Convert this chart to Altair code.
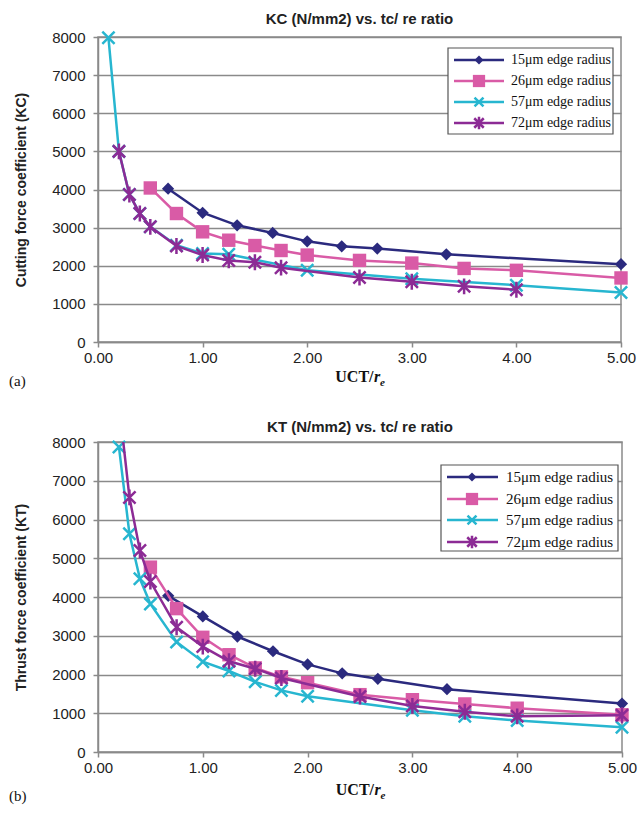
import altair as alt
import pandas as pd

# ---------------- data ----------------
series = ["15μm edge radius", "26μm edge radius", "57μm edge radius", "72μm edge radius"]

# (a) Cutting force coefficient KC
kc15_x = [0.67, 1.0, 1.33, 1.67, 2.0, 2.33, 2.67, 3.33, 5.0]
kc15_y = [4020, 3390, 3060, 2860, 2640, 2510, 2450, 2300, 2040]
kc26_x = [0.5, 0.75, 1.0, 1.25, 1.5, 1.75, 2.0, 2.5, 3.0, 3.5, 4.0, 5.0]
kc26_y = [4040, 3370, 2890, 2670, 2530, 2400, 2280, 2140, 2070, 1930, 1880, 1680]
kc57_x = [0.1, 0.2, 0.3, 0.4, 0.5, 0.75, 1.0, 1.25, 2.0, 3.0, 4.0, 5.0]
kc57_y = [7980, 5000, 3870, 3370, 3020, 2540, 2320, 2300, 1880, 1660, 1490, 1300]
kc72_x = [0.2, 0.3, 0.4, 0.5, 0.75, 1.0, 1.25, 1.5, 1.75, 2.5, 3.0, 3.5, 4.0]
kc72_y = [5000, 3870, 3370, 3020, 2520, 2280, 2140, 2090, 1950, 1690, 1580, 1460, 1370]

# (b) Thrust force coefficient KT
kt15_x = [0.67, 1.0, 1.33, 1.67, 2.0, 2.33, 2.67, 3.33, 5.0]
kt15_y = [4030, 3500, 2980, 2600, 2260, 2030, 1890, 1620, 1250]
kt26_x = [0.5, 0.75, 1.0, 1.25, 1.5, 1.75, 2.0, 2.5, 3.0, 3.5, 4.0, 5.0]
kt26_y = [4770, 3700, 2960, 2510, 2170, 1940, 1790, 1480, 1350, 1240, 1130, 960]
kt57_x = [0.2, 0.3, 0.4, 0.5, 0.75, 1.0, 1.25, 1.5, 1.75, 2.0, 3.0, 3.5, 4.0, 5.0]
kt57_y = [7870, 5630, 4470, 3820, 2840, 2330, 2090, 1810, 1590, 1440, 1080, 920, 810, 640]
kt72_x = [0.2, 0.3, 0.4, 0.5, 0.75, 1.0, 1.25, 1.5, 1.75, 2.5, 3.0, 3.5, 4.0, 5.0]
kt72_y = [9000, 6570, 5200, 4400, 3220, 2720, 2340, 2150, 1910, 1430, 1190, 1040, 920, 950]

y_ticks = [0, 1000, 2000, 3000, 4000, 5000, 6000, 7000, 8000]
x_ticks = [0, 1, 2, 3, 4, 5]

# ---------------- styles ----------------
colors = ["#2b2a7e", "#d95ba6", "#27b6d0", "#8c2b95"]
X_PATH = "M-1,-1L1,1M-1,1L1,-1"
STAR_PATH = "M-1,-1L1,1M-1,1L1,-1M0,-1.3L0,1.3"
shapes = ["diamond", "square", X_PATH, STAR_PATH]
filled = [True, True, False, False]
sizes = [150, 180, 150, 150]
leg_sizes = [80, 150, 80, 90]
GRID = "#8a8a8a"
SANS = "Liberation Sans"
SERIF = "Liberation Serif"


def panel(title, ytitle, xs_list, ys_list, w, h, leg, tag, xlab_base, tag_base):
    xsc = alt.Scale(domain=[0, 5], nice=False, zero=False)
    ysc = alt.Scale(domain=[0, 8000], nice=False)
    xenc = alt.X("x:Q", scale=xsc,
                 axis=alt.Axis(values=x_ticks, format=".2f", grid=False, tickSize=5,
                               labelPadding=3, labelFlush=False, title=None,
                               domainColor=GRID, tickColor=GRID, domainWidth=1.5,
                               tickWidth=1.5))
    yenc = alt.Y("y:Q", scale=ysc,
                 axis=alt.Axis(values=y_ticks, format="d", grid=True, tickSize=5,
                               labelPadding=8, title=ytitle, titlePadding=23,
                               gridColor=GRID, gridWidth=1.5, domainColor=GRID,
                               tickColor=GRID, domainWidth=1.5, tickWidth=1.5))
    layers = []
    for i in range(4):
        df = pd.DataFrame({"x": xs_list[i], "y": ys_list[i]})
        layers.append(alt.Chart(df).mark_line(color=colors[i], strokeWidth=2.5, clip=True)
                      .encode(x=xenc, y=yenc))
        layers.append(alt.Chart(df).transform_filter("datum.y <= 8000")
                      .mark_point(shape=shapes[i], filled=filled[i], color=colors[i],
                                  size=sizes[i], strokeWidth=2.5, opacity=1)
                      .encode(x=xenc, y=yenc))
    # legend
    one = pd.DataFrame({"a": [0]})
    bx0, bx1, by0, by1, rows, lx0, lx1, mx, tx, fs = leg
    layers.append(alt.Chart(one).mark_rect(fill="white", stroke="#555555", strokeWidth=1.2)
                  .encode(x=alt.value(bx0), x2=alt.value(bx1), y=alt.value(by0), y2=alt.value(by1)))
    for i in range(4):
        ry = rows[i]
        layers.append(alt.Chart(one).mark_rule(color=colors[i], strokeWidth=2.5)
                      .encode(x=alt.value(lx0), x2=alt.value(lx1), y=alt.value(ry)))
        layers.append(alt.Chart(one).mark_point(shape=shapes[i], filled=filled[i], color=colors[i],
                                                size=leg_sizes[i], strokeWidth=2.5, opacity=1)
                      .encode(x=alt.value(mx), y=alt.value(ry)))
        layers.append(alt.Chart(one).mark_text(align="left", baseline="middle", font=SERIF,
                                               fontSize=fs, color="#111111")
                      .encode(x=alt.value(tx), y=alt.value(ry), text=alt.value(series[i])))
    # x-axis title UCT/r_e and panel tag
    cx = w / 2
    layers.append(alt.Chart(one).mark_text(align="right", baseline="alphabetic", font=SERIF,
                                           fontSize=16, fontWeight="bold", color="#111111")
                  .encode(x=alt.value(cx + 14), y=alt.value(xlab_base), text=alt.value("UCT/")))
    layers.append(alt.Chart(one).mark_text(align="left", baseline="alphabetic", font=SERIF,
                                           fontSize=16, fontWeight="bold", fontStyle="italic",
                                           color="#111111")
                  .encode(x=alt.value(cx + 14.5), y=alt.value(xlab_base), text=alt.value("r")))
    layers.append(alt.Chart(one).mark_text(align="left", baseline="alphabetic", font=SERIF,
                                           fontSize=11, fontWeight="bold", fontStyle="italic",
                                           color="#111111")
                  .encode(x=alt.value(cx + 20.5), y=alt.value(xlab_base + 4), text=alt.value("e")))
    layers.append(alt.Chart(one).mark_text(align="left", baseline="alphabetic", font=SERIF,
                                           fontSize=15, color="#111111")
                  .encode(x=alt.value(-89), y=alt.value(tag_base), text=alt.value(tag)))
    return alt.layer(*layers).properties(
        width=w, height=h,
        title=alt.TitleParams(title, font=SANS, fontSize=15, fontWeight="bold",
                              anchor="middle", frame="group", offset=0, color="#222222"))


top = panel("KC (N/mm2) vs. tc/ re ratio", "Cutting force coefficient (KC)",
            [kc15_x, kc26_x, kc57_x, kc72_x], [kc15_y, kc26_y, kc57_y, kc72_y],
            523, 305,
            (350, 515, 11, 97, [23, 44, 65, 86], 356, 406, 381, 413, 14),
            "(a)", 345, 349)
bottom = panel("KT (N/mm2) vs. tc/ re ratio", "Thrust force coefficient (KT)",
               [kt15_x, kt26_x, kt57_x, kt72_x], [kt15_y, kt26_y, kt57_y, kt72_y],
               524, 310,
               (343, 520, 23, 109, [35, 57, 78, 100], 349, 400, 374, 408, 15),
               "(b)", 353, 359)

chart = (alt.vconcat(top, bottom, spacing=29)
         .properties(padding={"left": 8, "top": 10, "right": 0, "bottom": 0}, background="white")
         .configure_view(stroke=GRID, strokeWidth=1.5)
         .configure_axis(labelFont=SANS, labelFontSize=15, labelColor="#222222",
                         titleFont=SANS, titleFontSize=14, titleFontWeight="bold",
                         titleColor="#222222"))

chart.save("out.html", embed_options={"renderer": "svg", "actions": False})
